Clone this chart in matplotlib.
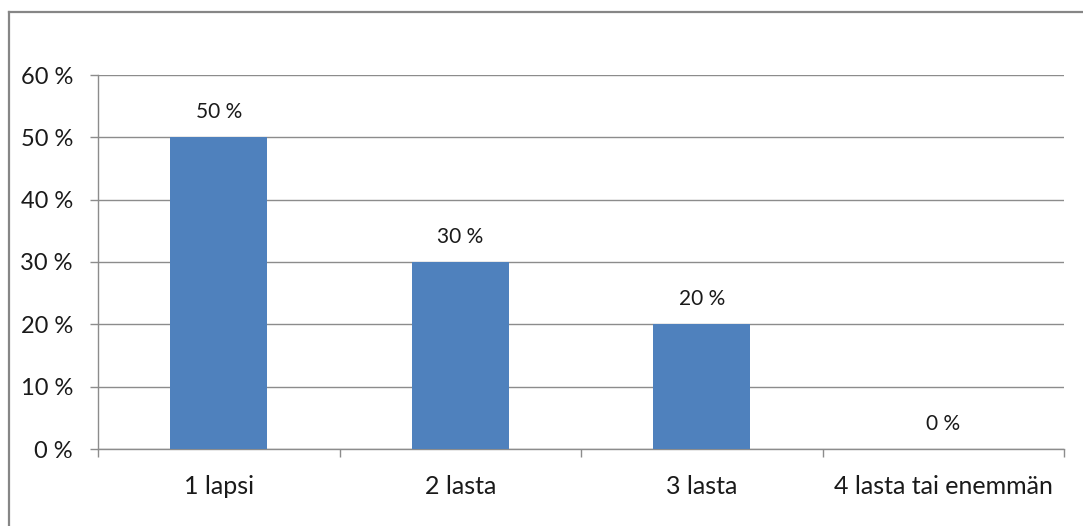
import matplotlib
matplotlib.use("Agg")
import matplotlib.pyplot as plt
from matplotlib.lines import Line2D

categories = ["1 lapsi", "2 lasta", "3 lasta", "4 lasta tai enemmän"]
values = [50, 30, 20, 0]
yticks = [0, 10, 20, 30, 40, 50, 60]
ytick_labels = ["0 %", "10 %", "20 %", "30 %", "40 %", "50 %", "60 %"]

plt.rcParams['font.family'] = ['Lato', 'DejaVu Sans']

W, H = 1083, 526
fig = plt.figure(figsize=(W / 100, H / 100), dpi=100)
ax = fig.add_axes([98 / W, 1 - 449 / H, (1064 - 98) / W, (449 - 75) / H])

grid_c = "#8c8c8c"
text_c = "#1a1a1a"
x = list(range(len(categories)))
ax.bar(x, values, width=0.40, color="#4F81BD", zorder=3)
for xi, v in zip(x, values):
    ax.annotate(f"{v} %", (xi, v), xytext=(0, 11), textcoords="offset points",
                ha="center", va="bottom", fontsize=15, color=text_c)

ax.set_xlim(-0.5, len(categories) - 0.5)
ax.set_ylim(0, 60)
ax.set_yticks(yticks)
ax.set_yticklabels(ytick_labels, fontsize=17, color=text_c)
ax.yaxis.grid(True, color=grid_c, linewidth=1.0, zorder=0)
ax.set_axisbelow(True)

ax.set_xticks([i - 0.5 for i in range(len(categories) + 1)])
ax.set_xticklabels([])
ax.set_xticks(x, minor=True)
ax.set_xticklabels(categories, minor=True, fontsize=18, color=text_c)
ax.tick_params(axis="x", which="major", length=6, color=grid_c, width=1)
ax.tick_params(axis="x", which="minor", length=0, pad=19)
ax.tick_params(axis="y", length=6, color=grid_c, width=1, pad=12)

for s in ["top", "right"]:
    ax.spines[s].set_visible(False)
for s in ["left", "bottom"]:
    ax.spines[s].set_color(grid_c)
    ax.spines[s].set_linewidth(1.0)

# outer chart border (left and top edges visible)
bx, by = 8.5 / W, 1 - 11.5 / H
fig.add_artist(Line2D([bx, bx], [0, by], transform=fig.transFigure, color="#868686", linewidth=1.6))
fig.add_artist(Line2D([bx, 1], [by, by], transform=fig.transFigure, color="#868686", linewidth=1.6))

fig.savefig("out.png", dpi=100)
